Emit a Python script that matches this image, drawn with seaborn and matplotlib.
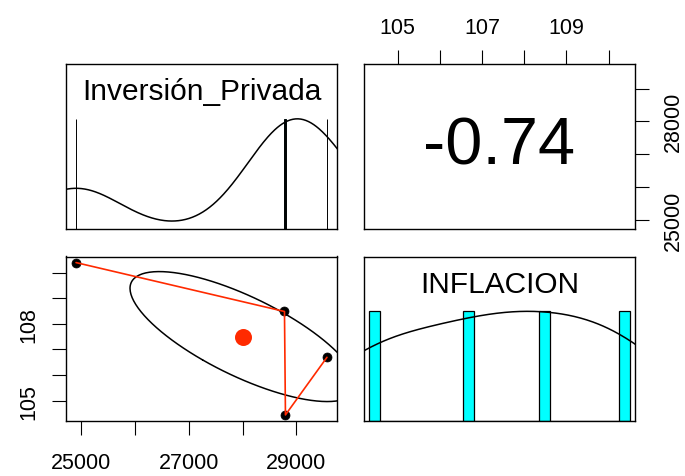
import numpy as np
import seaborn as sns
import matplotlib
matplotlib.use("Agg")
import matplotlib.pyplot as plt

# data (one row per observation)
inversion = [24912, 28778, 29566, 28796]
inflacion = [110.39, 108.48, 106.69, 104.44]
var_names = ["Inversión_Privada", "INFLACION"]

# axis ticks, R style (only some labels printed)
inv_ticks = [25000, 26000, 27000, 28000, 29000]
inv_bottom_labels = ["25000", "", "27000", "", "29000"]
inv_right_labels = ["25000", "", "", "28000", ""]
inf_ticks = [105, 106, 107, 108, 109, 110]
inf_top_labels = ["105", "", "107", "", "109", ""]
inf_left_labels = ["105", "", "", "108", "", ""]

# kernel bandwidths and histogram bar widths
inv_bw, inf_bw = 830, 1.45
inv_barw, inf_barw = 8, 0.26

sns.set_style("white", {"axes.edgecolor": "black"})
plt.rcParams["font.family"] = ["Liberation Sans", "DejaVu Sans"]
plt.rcParams.update({"text.color": "black", "xtick.color": "black",
                     "ytick.color": "black", "axes.labelcolor": "black"})


def padded(v):
    lo, hi = min(v), max(v)
    d = (hi - lo) * 0.04
    return lo - d, hi + d


def scaled_kde(v, bw):
    grid = np.linspace(min(v) - 3 * bw, max(v) + 3 * bw, 600)
    dens = sum(np.exp(-0.5 * ((grid - xi) / bw) ** 2) for xi in v)
    return grid, dens / dens.max()


def bar_edges(v, w):
    edges = []
    for x in sorted(v):
        edges += [x - w / 2, x + w / 2]
    return edges


def diag_panel(ax, v, bw, w, name, lw):
    sns.histplot(x=v, bins=bar_edges(v, w), ax=ax, color="#00FFFF",
                 edgecolor="black", linewidth=lw, alpha=1)
    gx, gy = scaled_kde(v, bw)
    sns.lineplot(x=gx, y=gy, ax=ax, color="black", lw=1.1)
    ax.set_xlim(padded(v))
    ax.set_ylim(0, 1.5)
    ax.text(0.5, 0.835, name, transform=ax.transAxes, ha="center",
            va="center", fontsize=21.5)


fig, axes = plt.subplots(2, 2, figsize=(6.85, 4.77), dpi=100)
fig.subplots_adjust(left=66 / 685, right=635 / 685, bottom=1 - 422 / 477,
                    top=1 - 65 / 477, wspace=27 / 271, hspace=28 / 164.5)

for ax in axes.flat:
    for s in ax.spines.values():
        s.set_linewidth(1.0)
    ax.set_xticks([])
    ax.set_yticks([])
    ax.set_xlabel("")
    ax.set_ylabel("")

tick_kw = dict(length=10, width=0.8, labelsize=15.5, color="black")

# diagonal panels
diag_panel(axes[0, 0], inversion, inv_bw, inv_barw, var_names[0], 0.7)
diag_panel(axes[1, 1], inflacion, inf_bw, inf_barw, var_names[1], 0.9)

# scatter panel with correlation ellipse and smoother
ax = axes[1, 0]
xm, ym = np.mean(inversion), np.mean(inflacion)
xs, ys = np.std(inversion, ddof=1), np.std(inflacion, ddof=1)
r = np.corrcoef(inversion, inflacion)[0, 1]
ang = np.linspace(0, 2 * np.pi, 200)
t = np.sign(r) / np.sqrt(2)
a, b = np.sqrt(1 + r), np.sqrt(1 - r)
ex = t * (a * np.cos(ang) - b * np.sin(ang)) * xs + xm
ey = t * (a * np.cos(ang) + b * np.sin(ang)) * ys + ym
sns.lineplot(x=ex, y=ey, sort=False, estimator=None, ax=ax, color="black", lw=1.1)
sns.scatterplot(x=inversion, y=inflacion, ax=ax, color="black", s=42,
                edgecolor="black", linewidth=0.5, zorder=3)
sns.lineplot(x=inversion, y=inflacion, estimator=None, ax=ax, color="#FF2A00",
             lw=1.2, zorder=4)
sns.scatterplot(x=[xm], y=[ym], ax=ax, color="#FF2A00", s=150, linewidth=0, zorder=5)
ax.set_xlim(padded(inversion))
ax.set_ylim(padded(inflacion))
ax.set_xticks(inv_ticks, inv_bottom_labels)
ax.set_yticks(inf_ticks, inf_left_labels, rotation=90, va="center")
ax.tick_params(axis="x", bottom=True, pad=12, **tick_kw)
ax.tick_params(axis="y", left=True, pad=9, **tick_kw)

# correlation panel
ax = axes[0, 1]
ax.set_xlim(padded(inflacion))
ax.set_ylim(padded(inversion))
ax.text(0.5, 0.5, f"{r:.2f}", transform=ax.transAxes, ha="center",
        va="center", fontsize=48)
ax.xaxis.tick_top()
ax.yaxis.tick_right()
ax.set_xticks(inf_ticks, inf_top_labels)
ax.set_yticks(inv_ticks, inv_right_labels, rotation=90, va="center")
ax.tick_params(axis="x", top=True, bottom=False, pad=9, **tick_kw)
ax.tick_params(axis="y", right=True, left=False, pad=10, **tick_kw)

fig.savefig("out.png", dpi=100)
